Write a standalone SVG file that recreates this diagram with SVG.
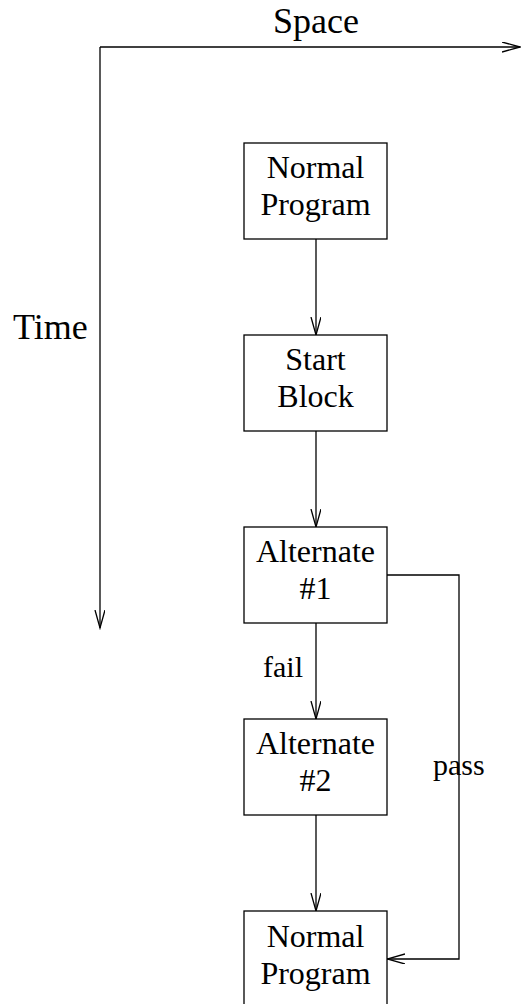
<svg xmlns="http://www.w3.org/2000/svg" width="521" height="1004" viewBox="0 0 521 1004">
<style>
.box{fill:#fff;stroke:#000;stroke-width:1.3}
.t{font-family:"Liberation Serif","Times New Roman",serif;font-size:32px;fill:#000;text-anchor:middle}
.lbl{font-family:"Liberation Serif","Times New Roman",serif;font-size:30px;fill:#000}
.ax{font-family:"Liberation Serif","Times New Roman",serif;font-size:36px;fill:#000}
.c{fill:none;stroke:#000;stroke-width:1.3}
</style>
<defs>
<marker id="ah" markerUnits="userSpaceOnUse" markerWidth="20" markerHeight="12" refX="18" refY="5" orient="auto">
<path d="M0,0 L18,5 L0,10" fill="none" stroke="#000" stroke-width="1.3"/>
</marker>
</defs>
<rect width="521" height="1004" fill="#fff"/>
<g id="axes">
<path class="c" d="M100,47 L520,47" marker-end="url(#ah)"/>
<path class="c" d="M100,47 L100,628" marker-end="url(#ah)"/>
<text class="ax" x="273" y="33">Space</text>
<text class="ax" x="13" y="339">Time</text>
</g>
<g id="connectors">
<path class="c" d="M316,239 L316,335" marker-end="url(#ah)"/>
<path class="c" d="M316,431 L316,527" marker-end="url(#ah)"/>
<path class="c" d="M316,623 L316,719" marker-end="url(#ah)"/>
<path class="c" d="M316,815 L316,911" marker-end="url(#ah)"/>
<path class="c" d="M387,575 L459,575 L459,959 L387,959" marker-end="url(#ah)"/>
<text class="lbl" x="263" y="677">fail</text>
<text class="lbl" x="433" y="775">pass</text>
</g>
<g id="n1">
<rect class="box" x="244" y="143" width="143" height="96"/>
<text class="t" x="315.5" y="178">Normal</text>
<text class="t" x="315.5" y="215">Program</text>
</g>
<g id="n2">
<rect class="box" x="244" y="335" width="143" height="96"/>
<text class="t" x="315.5" y="370">Start</text>
<text class="t" x="315.5" y="407">Block</text>
</g>
<g id="n3">
<rect class="box" x="244" y="527" width="143" height="96"/>
<text class="t" x="315.5" y="562">Alternate</text>
<text class="t" x="315.5" y="599">#1</text>
</g>
<g id="n4">
<rect class="box" x="244" y="719" width="143" height="96"/>
<text class="t" x="315.5" y="754">Alternate</text>
<text class="t" x="315.5" y="791">#2</text>
</g>
<g id="n5">
<rect class="box" x="244" y="911" width="143" height="96"/>
<text class="t" x="315.5" y="947">Normal</text>
<text class="t" x="315.5" y="984">Program</text>
</g>
</svg>
